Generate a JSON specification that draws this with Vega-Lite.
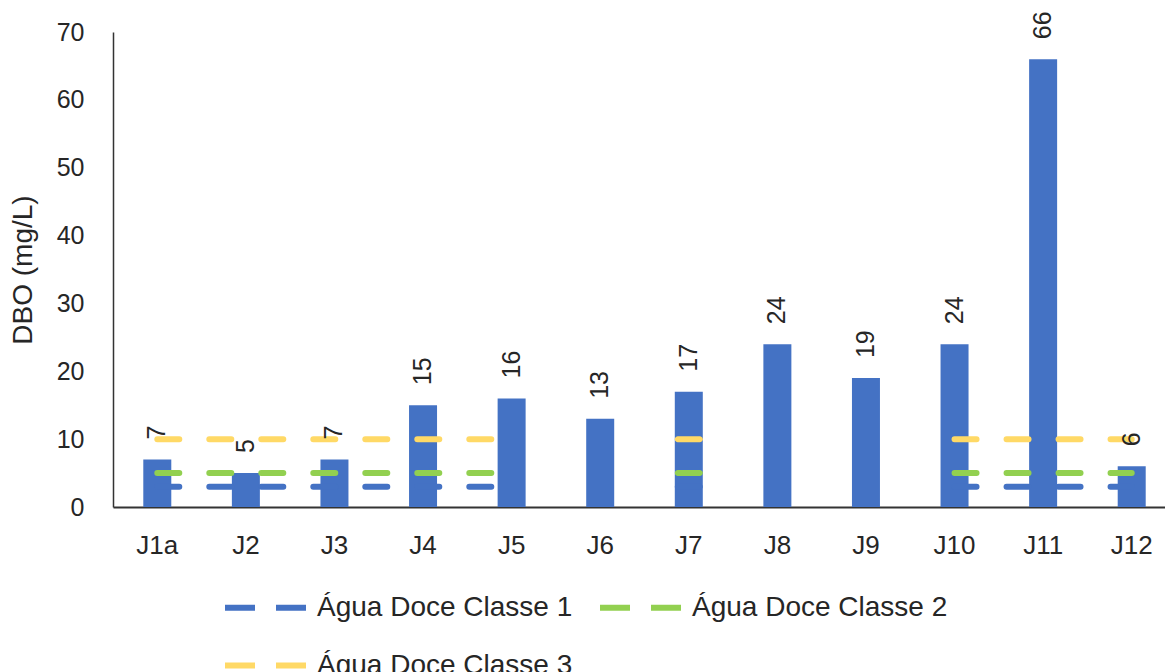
{
  "$schema": "https://vega.github.io/schema/vega-lite/v6.json",
  "autosize": "none",
  "padding": {"left": 113, "top": 32, "right": 0, "bottom": 165},
  "width": 1063,
  "height": 475,
  "background": "white",
  "config": {
    "view": {"stroke": null},
    "font": "Liberation Sans",
    "axis": {"labelFont": "Liberation Sans", "titleFont": "Liberation Sans", "labelColor": "#262626", "titleColor": "#262626", "grid": false, "ticks": false, "domainColor": "#333333"},
    "legend": {"labelFont": "Liberation Sans"}
  },
  "datasets": {
    "dbo": [
      {"ponto": "J1a", "valor": 7},
      {"ponto": "J2", "valor": 5},
      {"ponto": "J3", "valor": 7},
      {"ponto": "J4", "valor": 15},
      {"ponto": "J5", "valor": 16},
      {"ponto": "J6", "valor": 13},
      {"ponto": "J7", "valor": 17},
      {"ponto": "J8", "valor": 24},
      {"ponto": "J9", "valor": 19},
      {"ponto": "J10", "valor": 24},
      {"ponto": "J11", "valor": 66},
      {"ponto": "J12", "valor": 6}
    ],
    "limites": [
      {"ponto": "J1a", "classe": "Água Doce Classe 1", "valor": 3, "trecho": "a"},
      {"ponto": "J2", "classe": "Água Doce Classe 1", "valor": 3, "trecho": "a"},
      {"ponto": "J3", "classe": "Água Doce Classe 1", "valor": 3, "trecho": "a"},
      {"ponto": "J4", "classe": "Água Doce Classe 1", "valor": 3, "trecho": "a"},
      {"ponto": "J5", "classe": "Água Doce Classe 1", "valor": 3, "trecho": "a"},
      {"ponto": "J7", "classe": "Água Doce Classe 1", "valor": 3, "trecho": "c"},
      {"ponto": "J10", "classe": "Água Doce Classe 1", "valor": 3, "trecho": "b"},
      {"ponto": "J11", "classe": "Água Doce Classe 1", "valor": 3, "trecho": "b"},
      {"ponto": "J12", "classe": "Água Doce Classe 1", "valor": 3, "trecho": "b"},
      {"ponto": "J1a", "classe": "Água Doce Classe 2", "valor": 5, "trecho": "a"},
      {"ponto": "J2", "classe": "Água Doce Classe 2", "valor": 5, "trecho": "a"},
      {"ponto": "J3", "classe": "Água Doce Classe 2", "valor": 5, "trecho": "a"},
      {"ponto": "J4", "classe": "Água Doce Classe 2", "valor": 5, "trecho": "a"},
      {"ponto": "J5", "classe": "Água Doce Classe 2", "valor": 5, "trecho": "a"},
      {"ponto": "J7", "classe": "Água Doce Classe 2", "valor": 5, "trecho": "c"},
      {"ponto": "J10", "classe": "Água Doce Classe 2", "valor": 5, "trecho": "b"},
      {"ponto": "J11", "classe": "Água Doce Classe 2", "valor": 5, "trecho": "b"},
      {"ponto": "J12", "classe": "Água Doce Classe 2", "valor": 5, "trecho": "b"},
      {"ponto": "J1a", "classe": "Água Doce Classe 3", "valor": 10, "trecho": "a"},
      {"ponto": "J2", "classe": "Água Doce Classe 3", "valor": 10, "trecho": "a"},
      {"ponto": "J3", "classe": "Água Doce Classe 3", "valor": 10, "trecho": "a"},
      {"ponto": "J4", "classe": "Água Doce Classe 3", "valor": 10, "trecho": "a"},
      {"ponto": "J5", "classe": "Água Doce Classe 3", "valor": 10, "trecho": "a"},
      {"ponto": "J7", "classe": "Água Doce Classe 3", "valor": 10, "trecho": "c"},
      {"ponto": "J10", "classe": "Água Doce Classe 3", "valor": 10, "trecho": "b"},
      {"ponto": "J11", "classe": "Água Doce Classe 3", "valor": 10, "trecho": "b"},
      {"ponto": "J12", "classe": "Água Doce Classe 3", "valor": 10, "trecho": "b"}
    ]
  },
  "encoding": {
    "x": {
      "field": "ponto",
      "type": "nominal",
      "sort": ["J1a", "J2", "J3", "J4", "J5", "J6", "J7", "J8", "J9", "J10", "J11", "J12"],
      "scale": {"domain": ["J1a", "J2", "J3", "J4", "J5", "J6", "J7", "J8", "J9", "J10", "J11", "J12"], "paddingInner": 0, "paddingOuter": 0},
      "axis": {"title": null, "labelAngle": 0, "labelFontSize": 26, "labelPadding": 25, "domainWidth": 2}
    },
    "y": {
      "field": "valor",
      "type": "quantitative",
      "scale": {"domain": [0, 70], "nice": false},
      "axis": {"title": "DBO (mg/L)", "titleFontSize": 28, "titleFontWeight": "normal", "titlePadding": 19, "labelFontSize": 25, "labelPadding": 29, "values": [0, 10, 20, 30, 40, 50, 60, 70], "labelOverlap": false, "labelFlush": false, "labelBound": false, "domainWidth": 1.5}
    }
  },
  "layer": [
    {
      "data": {"name": "dbo"},
      "mark": {"type": "bar", "color": "#4472C4", "width": 28}
    },
    {
      "data": {"name": "limites"},
      "transform": [{"filter": "datum.trecho !== 'c'"}],
      "mark": {"type": "line", "strokeWidth": 6, "strokeDash": [22, 30], "strokeCap": "round", "opacity": 1},
      "encoding": {
        "detail": {"field": "trecho"},
        "color": {
          "field": "classe",
          "type": "nominal",
          "scale": {"domain": ["Água Doce Classe 1", "Água Doce Classe 2", "Água Doce Classe 3"], "range": ["#4472C4", "#92D050", "#FFD966"]},
          "legend": {
            "title": null,
            "orient": "none",
            "legendX": 109,
            "legendY": 532,
            "direction": "horizontal",
            "columns": 2,
            "columnPadding": 15,
            "rowPadding": -38,
            "symbolType": "stroke",
            "symbolSize": 6561,
            "symbolStrokeWidth": 6,
            "symbolDash": [30, 21],
            "symbolOpacity": 1,
            "labelFontSize": 28,
            "labelColor": "#262626",
            "labelOffset": 8,
            "labelLimit": 400
          }
        }
      }
    },
    {
      "data": {"name": "limites"},
      "transform": [{"filter": "datum.trecho === 'c'"}],
      "mark": {"type": "tick", "size": 28, "thickness": 6, "cornerRadius": 3, "opacity": 1},
      "encoding": {
        "color": {"field": "classe", "type": "nominal"}
      }
    },
    {
      "data": {"name": "dbo"},
      "mark": {"type": "text", "angle": 270, "align": "left", "baseline": "middle", "dx": 20, "fontSize": 25, "color": "#262626"},
      "encoding": {
        "text": {"field": "valor", "type": "quantitative"}
      }
    }
  ]
}
